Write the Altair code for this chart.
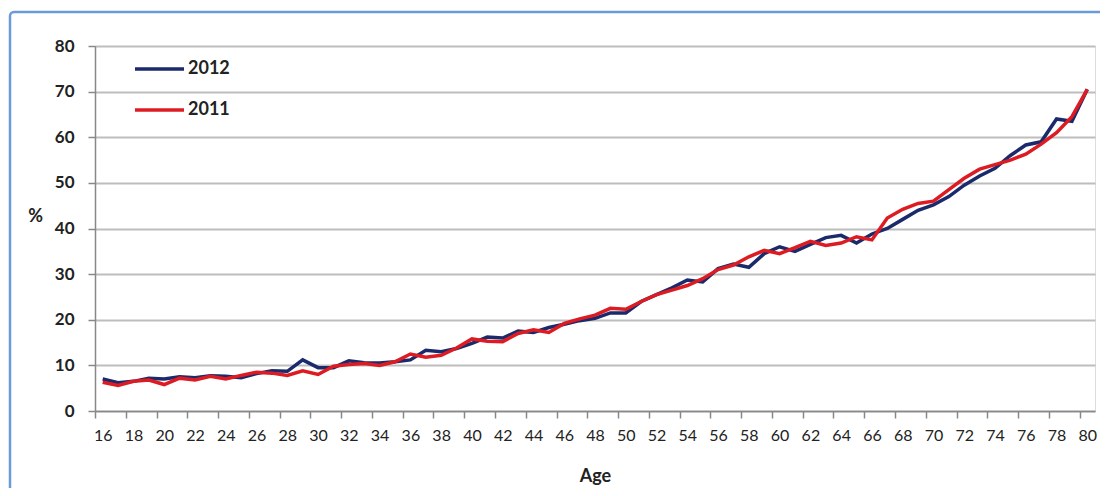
import altair as alt
import pandas as pd

ages = list(range(16, 81))
v2012 = [7.0, 6.2, 6.5, 7.2, 7.0, 7.5, 7.3, 7.7, 7.6, 7.3,
         8.2, 8.8, 8.7, 11.2, 9.5, 9.5, 11.0, 10.6, 10.5, 10.8,
         11.2, 13.3, 13.0, 13.7, 14.8, 16.2, 16.0, 17.5, 17.2, 18.3,
         19.0, 19.8, 20.3, 21.5, 21.5, 24.0, 25.5, 27.0, 28.7, 28.3,
         31.2, 32.2, 31.5, 34.5, 36.0, 35.0, 36.5, 38.0, 38.5, 36.8,
         38.8, 40.0, 42.0, 44.0, 45.2, 47.0, 49.5, 51.5, 53.2, 56.0,
         58.3, 59.0, 64.0, 63.5, 70.5]
v2011 = [6.3, 5.6, 6.5, 6.8, 5.8, 7.2, 6.8, 7.6, 7.0, 7.8,
         8.5, 8.3, 7.8, 8.8, 8.0, 9.8, 10.2, 10.4, 10.0, 10.8,
         12.5, 11.8, 12.2, 13.8, 15.8, 15.3, 15.2, 17.0, 17.8, 17.2,
         19.2, 20.2, 21.0, 22.5, 22.3, 24.0, 25.5, 26.5, 27.5, 29.0,
         31.0, 32.0, 33.8, 35.2, 34.5, 35.8, 37.2, 36.3, 36.8, 38.2,
         37.5, 42.3, 44.2, 45.5, 46.0, 48.5, 51.0, 53.0, 54.0, 55.0,
         56.3, 58.5, 61.0, 64.5, 70.5]
series = ["2012", "2011"]
colors = ["#1b2a6b", "#dc1c22"]
x_ticks = list(range(16, 81, 2)) + [81]
y_ticks = list(range(0, 81, 10))

df = pd.concat([
    pd.DataFrame({"Age": ages, "Pct": v2012, "Year": "2012"}),
    pd.DataFrame({"Age": ages, "Pct": v2011, "Year": "2011"}),
])

W, H = 1000, 365
half = W / 65 / 2
FONT = "Lato"

frame = alt.Chart(pd.DataFrame({"a": [0]})).mark_rect(
    fill=None, stroke="#6a9bd8", strokeWidth=2.5, cornerRadius=4
).encode(x=alt.value(-85), x2=alt.value(1100), y=alt.value(-34), y2=alt.value(600))

lines = alt.Chart(df).mark_line(strokeWidth=3.5, clip=True).encode(
    x=alt.X("Age:Q",
            scale=alt.Scale(domain=[15.5, 80.5], nice=False, zero=False),
            axis=alt.Axis(values=x_ticks, title="Age", grid=False,
                          tickOffset=-half, labelOffset=half,
                          labelExpr="datum.value == 81 ? '' : datum.label",
                          labelFont=FONT, labelFontSize=16, labelColor="#222",
                          labelPadding=9, tickSize=7, tickColor="#888",
                          domainColor="#888", domainWidth=1.5, tickWidth=1.5,
                          labelFlush=False, labelOverlap=False,
                          titleFont=FONT, titleFontSize=18, titleFontWeight="bold",
                          titleColor="#222", titlePadding=24)),
    y=alt.Y("Pct:Q",
            scale=alt.Scale(domain=[0, 80], nice=False),
            axis=alt.Axis(values=y_ticks, title="%", grid=True,
                          gridColor="#bdbdbd", gridWidth=2,
                          labelFont=FONT, labelFontSize=17, labelFontWeight="bold",
                          labelColor="#222", labelPadding=14, tickSize=7,
                          tickColor="#888", domainColor="#888", domainWidth=1.5,
                          tickWidth=1.5,
                          titleAngle=0, titleX=-60, titleY=170,
                          titleFont=FONT, titleFontSize=18, titleFontWeight="bold",
                          titleColor="#222", titleBaseline="middle")),
    color=alt.Color("Year:N",
                    scale=alt.Scale(domain=series, range=colors),
                    sort=series,
                    legend=alt.Legend(orient="none", legendX=38, legendY=13,
                                      title=None, symbolType="stroke",
                                      symbolSize=2400, symbolStrokeWidth=3.5,
                                      clipHeight=20, rowPadding=21,
                                      labelFont=FONT, labelFontSize=18,
                                      labelFontWeight="bold", labelColor="#222",
                                      labelOffset=2)),
    order=alt.Order("Year:N", sort="descending"),
)

chart = alt.layer(frame, lines).properties(
    width=W, height=H,
    autosize=alt.AutoSizeParams(type="none"),
    padding={"left": 87, "top": 38, "right": 5, "bottom": 77},
).configure_view(fill="#f2f2f2", stroke=None).configure(background="white")

chart.save("out.html", embed_options={"renderer": "svg", "actions": False})
